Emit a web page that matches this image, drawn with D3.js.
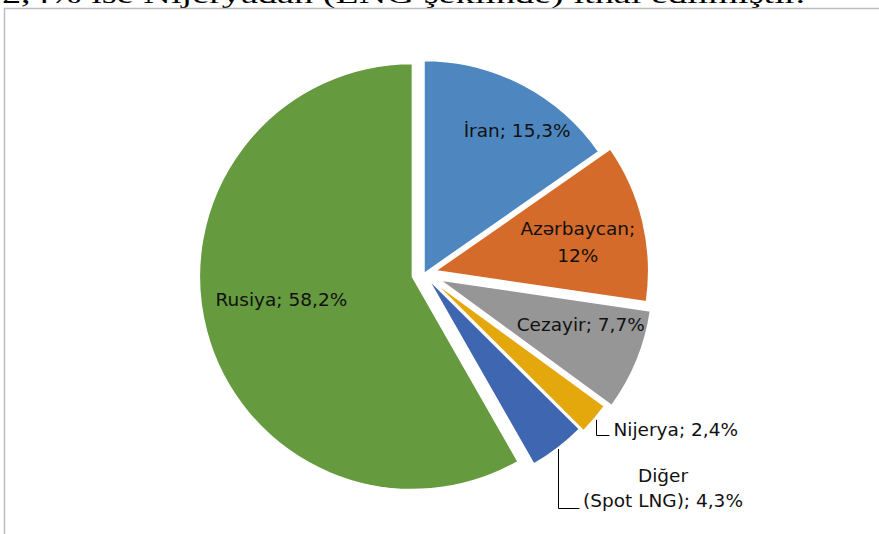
<!DOCTYPE html>
<html>
<head>
<meta charset="utf-8">
<script src="https://cdn.jsdelivr.net/npm/d3@7"></script>
<style>
  html, body { margin: 0; padding: 0; background: #ffffff; }
  svg { display: block; }
</style>
</head>
<body>
<div id="chart"></div>
<script>
const width = 879;
const height = 534;

// data (clockwise from 12 o'clock)
const categories = ["İran", "Azərbaycan", "Cezayir", "Nijerya", "Diğer (Spot LNG)", "Rusiya"];
const shares = [15.3, 12, 7.7, 2.4, 4.3, 58.2];
const headline = "2,4% ise Nijeryadan (LNG şeklinde) ithal edilmiştir.";

// styling
const colors = ["#4e87c0", "#d56b2a", "#969696", "#e5a80c", "#3e66b1", "#659a3e"];
const explode = [0, 12, 17, 11, 7, 12];
// label centre: [angle in degrees, distance] from the slice's own centre, null = outside label
const label_polar = [[33, 171], [78.6, 145], [107.7, 148], null, null, [260, 133]];
// where a label wraps onto a second line
const label_break = [null, "; ", null, null, " (", null];
const center = {x: 424, y: 273.5};
const radius = 213;
const font = "'DejaVu Sans', sans-serif";
const font_size = 18.5;

const svg = d3.select("#chart")
	.append("svg")
		.attr("width", width)
		.attr("height", height);

// part of the text line above the chart (cut off by the page edge)
svg.append("text")
	.attr("x", 2)
	.attr("y", 3)
	.attr("font-family", "'Liberation Serif', serif")
	.attr("font-size", 26)
	.attr("textLength", 803)
	.attr("lengthAdjust", "spacingAndGlyphs")
	.attr("fill", "#000")
	.text(headline);

// chart frame
svg.append("rect")
	.attr("x", 4.5)
	.attr("y", 8.5)
	.attr("width", 900)
	.attr("height", 600)
	.attr("fill", "none")
	.attr("stroke", "#bdbdbd")
	.attr("stroke-width", 1.5);

const pie = d3.pie()
	.sort(null)
	.value(d => d)
	.startAngle(0)
	.endAngle(2 * Math.PI);
const arcs = pie(shares);

const arc = d3.arc()
	.innerRadius(0)
	.outerRadius(radius);

function slice_center(d, i) {
	const a = (d.startAngle + d.endAngle) / 2;
	return {
		x: center.x + explode[i] * Math.sin(a),
		y: center.y - explode[i] * Math.cos(a),
	};
}

function polar(c, angle_deg, r) {
	const a = angle_deg * Math.PI / 180;
	return {x: c.x + r * Math.sin(a), y: c.y - r * Math.cos(a)};
}

const fmt = v => String(v).replace(".", ",") + "%";

// slices
svg.append("g")
	.selectAll("path")
	.data(arcs)
	.join("path")
		.attr("transform", (d, i) => {
			const c = slice_center(d, i);
			return "translate(" + c.x + "," + c.y + ")";
		})
		.attr("d", arc)
		.attr("fill", (d, i) => colors[i])
		.attr("stroke", "#ffffff")
		.attr("stroke-width", 1.5)
		.attr("stroke-linejoin", "round");

// inside labels
const line_height = 27;
arcs.forEach((d, i) => {
	if (!label_polar[i]) return;
	const c = slice_center(d, i);
	const p = polar(c, label_polar[i][0], label_polar[i][1]);
	let txt = categories[i] + "; " + fmt(shares[i]);
	let lines = [txt];
	if (label_break[i]) {
		const k = txt.indexOf(label_break[i]) + label_break[i].trimEnd().length;
		lines = [txt.slice(0, k), txt.slice(k).trim()];
	}
	const t = svg.append("text")
		.attr("font-family", font)
		.attr("font-size", font_size)
		.attr("fill", "#111")
		.attr("text-anchor", "middle");
	lines.forEach((line, j) => {
		t.append("tspan")
			.attr("x", p.x)
			.attr("y", p.y + (j - (lines.length - 1) / 2) * line_height)
			.attr("dominant-baseline", "central")
			.text(line);
	});
});

// outside labels with leader lines
function outer_mid(i) {
	const d = arcs[i];
	const c = slice_center(d, i);
	return polar(c, (d.startAngle + d.endAngle) / 2 * 180 / Math.PI, radius);
}

// Nijerya
{
	const i = 3;
	const s = outer_mid(i);
	const x = Math.round(s.x) + 2.5;
	const y_end = 435.5;
	svg.append("path")
		.attr("d", "M" + x + "," + (s.y + 1) + "V" + y_end + "H" + (x + 13))
		.attr("fill", "none")
		.attr("stroke", "#000")
		.attr("stroke-width", 1);
	svg.append("text")
		.attr("x", x + 17)
		.attr("y", y_end)
		.attr("font-family", font)
		.attr("font-size", font_size)
		.attr("fill", "#111")
		.text(categories[i] + "; " + fmt(shares[i]));
}

// Diğer (Spot LNG)
{
	const i = 4;
	const s = outer_mid(i);
	const x = Math.round(s.x) + 0.5;
	const y_end = 508.5;
	svg.append("path")
		.attr("d", "M" + x + "," + (s.y + 1) + "V" + y_end + "H" + (x + 21))
		.attr("fill", "none")
		.attr("stroke", "#000")
		.attr("stroke-width", 1);
	const txt = categories[i] + "; " + fmt(shares[i]);
	const k = txt.indexOf(" (");
	const t = svg.append("text")
		.attr("font-family", font)
		.attr("font-size", font_size)
		.attr("fill", "#111")
		.attr("text-anchor", "middle");
	t.append("tspan")
		.attr("x", 663)
		.attr("y", 482)
		.text(txt.slice(0, k));
	t.append("tspan")
		.attr("x", 663)
		.attr("y", 507)
		.text(txt.slice(k + 1));
}
</script>
</body>
</html>
